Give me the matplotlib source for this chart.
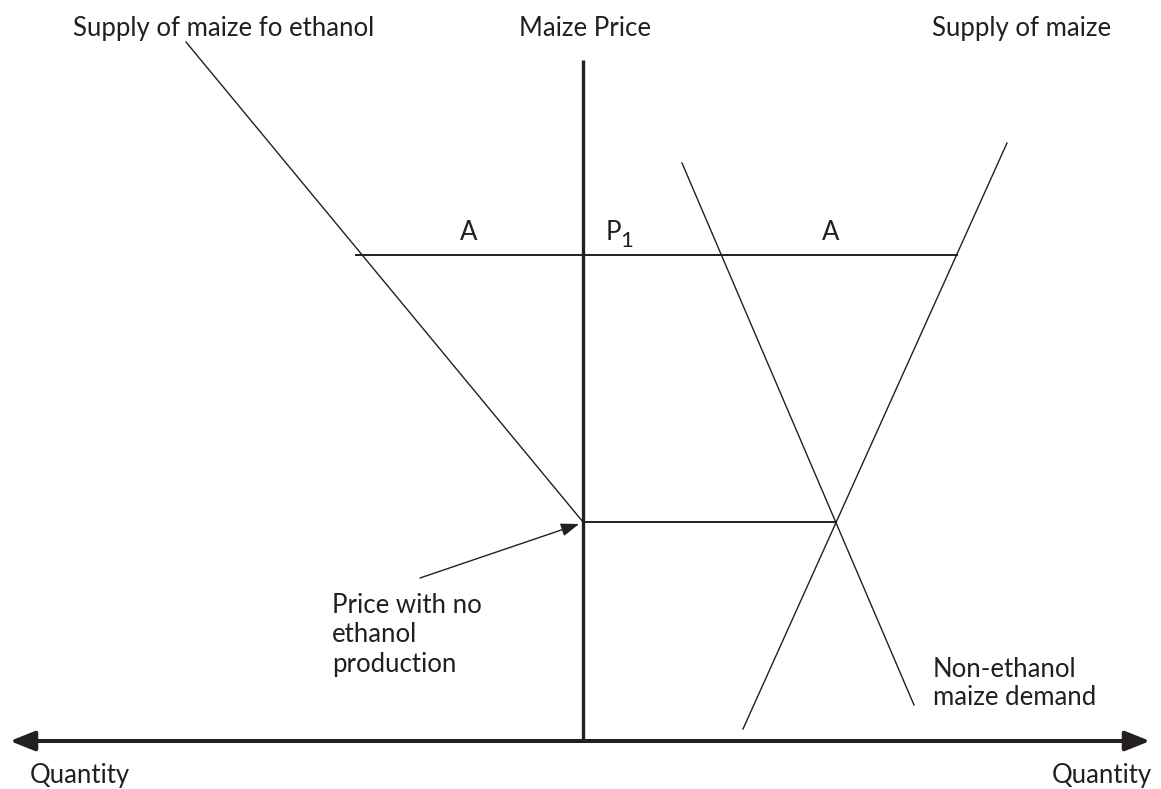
import matplotlib
matplotlib.use("Agg")
import matplotlib.pyplot as plt

# Diagram geometry (pixel-space coordinates, y downward)
price_axis_x = [583, 583]
price_axis_y = [60, 740]
qty_axis_x = [10, 1150]
qty_axis_y = 741

ethanol_supply_x = [186, 583]
ethanol_supply_y = [42, 522]

maize_supply_x = [1007, 743]
maize_supply_y = [143, 729]

demand_x = [682, 914]
demand_y = [163, 705]

p1_line_x = [356, 957]
p1_line_y = [255, 255]

eq_line_x = [583, 836]
eq_line_y = [522, 522]

arrow_tail = (420, 578)
arrow_head = (579, 524)

top_labels = ["Supply of maize fo ethanol", "Maize Price", "Supply of maize"]
top_label_x = [73, 585, 932]
top_label_ha = ["left", "center", "left"]

fig = plt.figure(figsize=(11.61, 7.89), dpi=100)
ax = fig.add_axes([0, 0, 1, 1])
ax.set_xlim(0, 1161)
ax.set_ylim(789, 0)
ax.axis("off")

FONT = "Lato"
col = "#231f20"
fs = 18.5

ax.plot(price_axis_x, price_axis_y, color=col, lw=2.4, solid_capstyle="butt")
ax.annotate("", xy=(qty_axis_x[0], qty_axis_y), xytext=(qty_axis_x[1], qty_axis_y),
            arrowprops=dict(arrowstyle="<|-|>,head_length=1.5,head_width=0.6",
                            color=col, lw=2.9, shrinkA=0, shrinkB=0))

ax.plot(ethanol_supply_x, ethanol_supply_y, color=col, lw=1.0)
ax.plot(maize_supply_x, maize_supply_y, color=col, lw=1.0)
ax.plot(demand_x, demand_y, color=col, lw=1.0)
ax.plot(p1_line_x, p1_line_y, color=col, lw=1.4)
ax.plot(eq_line_x, eq_line_y, color=col, lw=1.4)

ax.annotate("", xy=arrow_head, xytext=arrow_tail,
            arrowprops=dict(arrowstyle="-|>,head_length=1.1,head_width=0.4",
                            color=col, lw=1.0, shrinkA=0, shrinkB=0))

for t, x, ha in zip(top_labels, top_label_x, top_label_ha):
    ax.text(x, 36, t, ha=ha, va="baseline", fontsize=fs, family=FONT, color=col)

ax.text(469, 240, "A", ha="center", va="baseline", fontsize=fs, family=FONT, color=col)
ax.text(830.5, 240, "A", ha="center", va="baseline", fontsize=fs, family=FONT, color=col)
ax.text(606, 240, "P", ha="left", va="baseline", fontsize=fs, family=FONT, color=col)
ax.text(620, 247, "1", ha="left", va="baseline", fontsize=16, family=FONT, color=col)

ax.text(332, 613, "Price with no", ha="left", va="baseline", fontsize=fs, family=FONT, color=col)
ax.text(332, 642.5, "ethanol", ha="left", va="baseline", fontsize=fs, family=FONT, color=col)
ax.text(332, 672, "production", ha="left", va="baseline", fontsize=fs, family=FONT, color=col)
ax.text(933, 677, "Non-ethanol", ha="left", va="baseline", fontsize=fs, family=FONT, color=col)
ax.text(933, 705, "maize demand", ha="left", va="baseline", fontsize=fs, family=FONT, color=col)

ax.text(30, 783, "Quantity", ha="left", va="baseline", fontsize=fs, family=FONT, color=col)
ax.text(1052, 783, "Quantity", ha="left", va="baseline", fontsize=fs, family=FONT, color=col)

fig.savefig("out.png", dpi=100)
